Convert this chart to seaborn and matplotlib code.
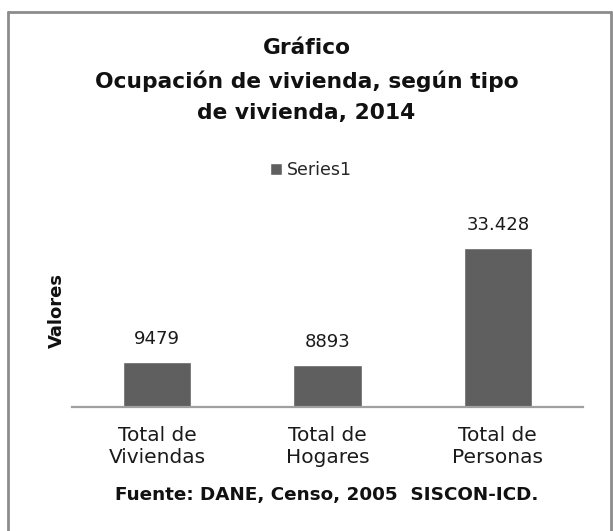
"""Ocupación de vivienda, según tipo de vivienda, 2014."""

import matplotlib

matplotlib.use("Agg")
import matplotlib.pyplot as plt
from matplotlib.lines import Line2D
from matplotlib.patches import Patch
import pandas as pd
import seaborn as sns

categories = ["Total de\nViviendas", "Total de\nHogares", "Total de\nPersonas"]
values = [9479, 8893, 33428]
value_labels = ["9479", "8893", "33.428"]
series_name = "Series1"

BAR_COLOR = "#5f5f5f"
W, H = 613, 531

sns.set_theme(style="white")
plt.rcParams["font.family"] = ["DejaVu Sans"]

data = pd.DataFrame({"categoria": categories, "valor": values})

fig = plt.figure(figsize=(W / 100, H / 100), dpi=100)
ax = fig.add_axes([72 / W, 1 - 407 / H, (583 - 72) / W, (407 - 217) / H])

sns.barplot(data=data, x="categoria", y="valor", color=BAR_COLOR,
            width=0.4, saturation=1, ax=ax)
ax.set_ylim(0, 40000)
ax.bar_label(ax.containers[0], labels=value_labels, padding=10,
             fontsize=13, color="#1a1a1a")

ax.set_xlabel("")
ax.set_ylabel("")
ax.set_yticks([])
ax.tick_params(axis="x", length=0, pad=14, labelsize=14.5, colors="#1a1a1a")
for side in ["left", "right", "top"]:
    ax.spines[side].set_visible(False)
ax.spines["bottom"].set_color("#a0a0a0")
ax.spines["bottom"].set_linewidth(1.6)

# title, legend, axis label, source
title_kw = dict(ha="center", va="center", fontsize=15.7, fontweight="bold",
                color="#111111")
fig.text(0.5, 1 - 48 / H, "Gráfico", **title_kw)
fig.text(0.5, 1 - 81 / H, "Ocupación de vivienda, según tipo", **title_kw)
fig.text(0.5, 1 - 113 / H, "de vivienda, 2014", **title_kw)

fig.legend(handles=[Patch(facecolor=BAR_COLOR, label=series_name)],
           loc="center", bbox_to_anchor=(311 / W, 1 - 170 / H), frameon=False,
           fontsize=12.5, handlelength=0.7, handleheight=0.7, handletextpad=0.3)

fig.text(57 / W, 1 - 310 / H, "Valores", rotation=90, ha="center",
         va="center", fontsize=13, fontweight="bold", color="#111111")

fig.text(327 / W, 1 - 495 / H, "Fuente: DANE, Censo, 2005  SISCON-ICD.",
         ha="center", va="center", fontsize=13.2, fontweight="bold",
         color="#111111")

# chart frame (open at the bottom)
frame_color = "#8c8c8c"
x0, x1, y_top = 8 / W, 611 / W, 1 - 12 / H
for xs, ys in [([x0, x0], [0, y_top]), ([x0, x1], [y_top, y_top]),
               ([x1, x1], [y_top, 0])]:
    fig.add_artist(Line2D(xs, ys, transform=fig.transFigure,
                          color=frame_color, linewidth=2))

fig.savefig("out.png", dpi=100)
plt.close(fig)
